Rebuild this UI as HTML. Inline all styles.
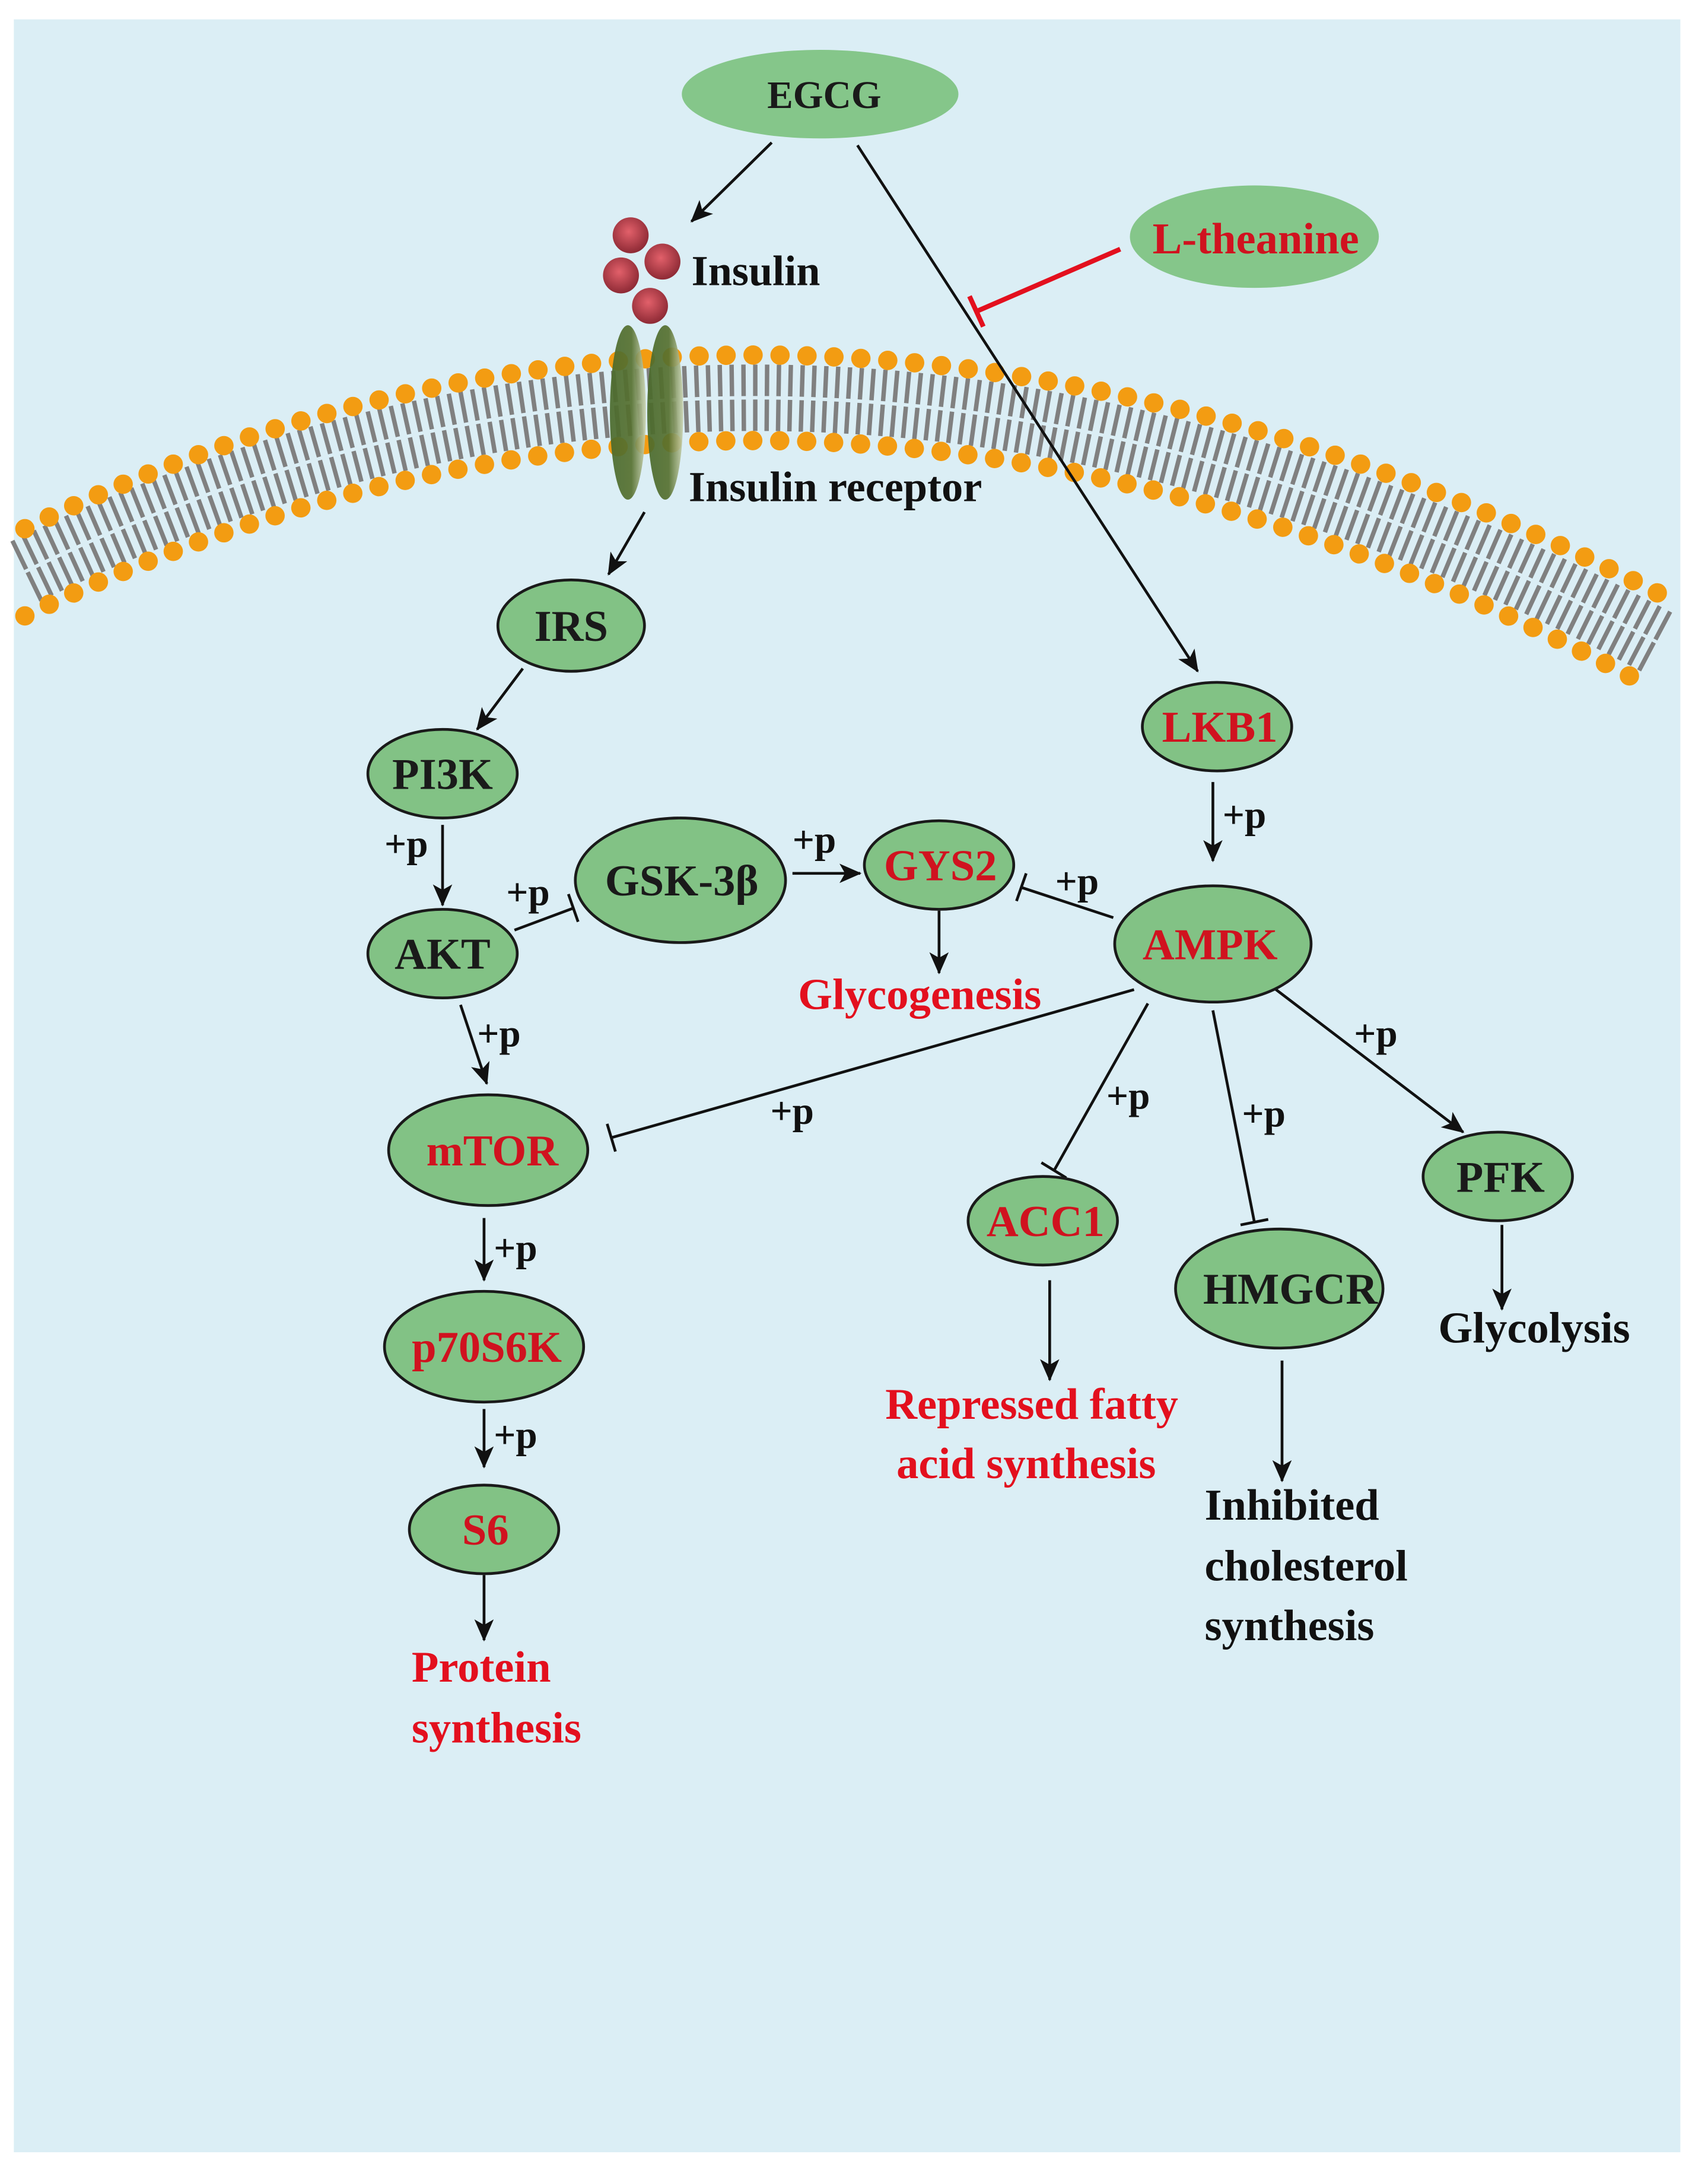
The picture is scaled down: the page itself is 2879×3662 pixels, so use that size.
<!DOCTYPE html>
<html><head><meta charset="utf-8"><style>
html,body{margin:0;padding:0;background:#fff;}
svg{display:block;}
text{font-family:"Liberation Serif",serif;font-weight:bold;}
</style></head><body>
<svg width="2879" height="3662" viewBox="0 0 1235 1570" preserveAspectRatio="none" xmlns="http://www.w3.org/2000/svg">
<defs>
<marker id="a" markerWidth="16" markerHeight="14" refX="15" refY="7" orient="auto" markerUnits="userSpaceOnUse"><path d="M0,0 L16,7 L0,14 L4,7 z" fill="#111"/></marker>
<radialGradient id="ball" cx="0.45" cy="0.4" r="0.6"><stop offset="0" stop-color="#e2606a"/><stop offset="1" stop-color="#8e2a35"/></radialGradient>
<linearGradient id="rec" x1="0" x2="1"><stop offset="0" stop-color="#4a6a2c"/><stop offset="0.6" stop-color="#56702f"/><stop offset="1" stop-color="#c9d2b0"/></linearGradient>
</defs>
<rect x="0" y="0" width="1235" height="1570" fill="#fff"/>
<rect x="10" y="14" width="1205" height="1541" fill="#dbeef5"/>
<path d="M18,413 Q584,138 1200,465" fill="none" stroke="#808080" stroke-width="48" stroke-dasharray="3.2 5.2"/>
<path d="M18,413 Q584,138 1200,465" fill="none" stroke="#dbeef5" stroke-width="2.5"/>
<path d="M18,382 Q584,106 1215,437" fill="none" stroke="#f39c12" stroke-width="14" stroke-linecap="round" stroke-dasharray="0 19.5"/>
<path d="M18,445 Q584,170 1185,492" fill="none" stroke="#f39c12" stroke-width="14" stroke-linecap="round" stroke-dasharray="0 19.5"/>
<ellipse cx="454" cy="298" rx="13" ry="63" fill="url(#rec)" opacity="0.92"/>
<ellipse cx="481" cy="298" rx="13" ry="63" fill="url(#rec)" opacity="0.92"/>
<circle cx="456" cy="170" r="13" fill="url(#ball)"/>
<circle cx="479" cy="189" r="13" fill="url(#ball)"/>
<circle cx="449" cy="199" r="13" fill="url(#ball)"/>
<circle cx="470" cy="221" r="13" fill="url(#ball)"/>
<text x="500" y="206" font-size="31" fill="#111">Insulin</text>
<text x="498" y="362" font-size="31" fill="#111">Insulin receptor</text>
<g stroke="#111" stroke-width="2" fill="none">
<line x1="558" y1="103" x2="500" y2="160" marker-end="url(#a)"/>
<line x1="620" y1="105" x2="866" y2="485" marker-end="url(#a)"/>
<line x1="466" y1="370" x2="440" y2="415" marker-end="url(#a)"/>
<line x1="378" y1="483" x2="345" y2="527" marker-end="url(#a)"/>
<line x1="320" y1="596" x2="320" y2="654" marker-end="url(#a)"/>
<line x1="372" y1="672" x2="415" y2="656"/><line x1="411" y1="646" x2="418" y2="666"/>
<line x1="573" y1="631" x2="622" y2="631" marker-end="url(#a)"/>
<line x1="805" y1="663" x2="738" y2="641"/><line x1="742" y1="631" x2="735" y2="651"/>
<line x1="679" y1="658" x2="679" y2="703" marker-end="url(#a)"/>
<line x1="877" y1="565" x2="877" y2="622" marker-end="url(#a)"/>
<line x1="333" y1="726" x2="352" y2="783" marker-end="url(#a)"/>
<line x1="820" y1="715" x2="442" y2="822"/><line x1="439" y1="812" x2="445" y2="832"/>
<line x1="830" y1="725" x2="762" y2="846"/><line x1="753" y1="840" x2="771" y2="851"/>
<line x1="877" y1="730" x2="907" y2="883"/><line x1="897" y1="885" x2="917" y2="881"/>
<line x1="920" y1="713" x2="1058" y2="818" marker-end="url(#a)"/>
<line x1="350" y1="880" x2="350" y2="925" marker-end="url(#a)"/>
<line x1="350" y1="1018" x2="350" y2="1060" marker-end="url(#a)"/>
<line x1="350" y1="1138" x2="350" y2="1185" marker-end="url(#a)"/>
<line x1="759" y1="925" x2="759" y2="997" marker-end="url(#a)"/>
<line x1="927" y1="983" x2="927" y2="1070" marker-end="url(#a)"/>
<line x1="1086" y1="885" x2="1086" y2="946" marker-end="url(#a)"/>
</g>
<line x1="810" y1="180" x2="706" y2="225" stroke="#e3101e" stroke-width="3.5"/>
<line x1="701" y1="214" x2="711" y2="236" stroke="#e3101e" stroke-width="3.5"/>
<g font-size="28" fill="#111">
<text x="278" y="619">+p</text>
<text x="366" y="654">+p</text>
<text x="573" y="616">+p</text>
<text x="763" y="646">+p</text>
<text x="884" y="598">+p</text>
<text x="345" y="756">+p</text>
<text x="557" y="812">+p</text>
<text x="800" y="801">+p</text>
<text x="898" y="814">+p</text>
<text x="979" y="756">+p</text>
<text x="357" y="911">+p</text>
<text x="357" y="1046">+p</text>
</g>
<ellipse cx="593" cy="68" rx="100" ry="32" fill="#85c68a"/>
<ellipse cx="907" cy="171" rx="90" ry="37" fill="#85c68a"/>
<g fill="#82c285" stroke="#1a1a1a" stroke-width="2">
<ellipse cx="413" cy="452" rx="53" ry="33"/>
<ellipse cx="320" cy="559" rx="54" ry="32"/>
<ellipse cx="320" cy="689" rx="54" ry="32"/>
<ellipse cx="492" cy="636" rx="76" ry="45"/>
<ellipse cx="679" cy="625" rx="54" ry="32"/>
<ellipse cx="877" cy="682" rx="71" ry="42"/>
<ellipse cx="880" cy="525" rx="54" ry="32"/>
<ellipse cx="353" cy="831" rx="72" ry="40"/>
<ellipse cx="350" cy="973" rx="72" ry="40"/>
<ellipse cx="350" cy="1105" rx="54" ry="32"/>
<ellipse cx="754" cy="882" rx="54" ry="32"/>
<ellipse cx="925" cy="931" rx="75" ry="43"/>
<ellipse cx="1083" cy="850" rx="54" ry="32"/>
</g>
<g font-size="32" text-anchor="middle">
<text x="596" y="78" fill="#1a1a1a" font-size="28">EGCG</text>
<text x="908" y="183" fill="#d0121f">L-theanine</text>
<text x="413" y="463" fill="#1a1a1a">IRS</text>
<text x="320" y="570" fill="#1a1a1a">PI3K</text>
<text x="320" y="700" fill="#1a1a1a">AKT</text>
<text x="493" y="647" fill="#1a1a1a">GSK-3β</text>
<text x="680" y="636" fill="#d0121f">GYS2</text>
<text x="875" y="693" fill="#d0121f">AMPK</text>
<text x="882" y="536" fill="#d0121f">LKB1</text>
<text x="356" y="842" fill="#d0121f">mTOR</text>
<text x="352" y="984" fill="#d0121f">p70S6K</text>
<text x="351" y="1116" fill="#d0121f">S6</text>
<text x="756" y="893" fill="#d0121f">ACC1</text>
<text x="933" y="942" fill="#1a1a1a">HMGCR</text>
<text x="1085" y="861" fill="#1a1a1a">PFK</text>
</g>
<g font-size="32">
<text x="665" y="729" text-anchor="middle" fill="#e3101e">Glycogenesis</text>
<text x="348" y="1215" text-anchor="middle" fill="#e3101e">Protein</text>
<text x="359" y="1259" text-anchor="middle" fill="#e3101e">synthesis</text>
<text x="746" y="1025" text-anchor="middle" fill="#e3101e">Repressed fatty</text>
<text x="742" y="1068" text-anchor="middle" fill="#e3101e">acid synthesis</text>
<text x="871" y="1098" fill="#111">Inhibited</text>
<text x="871" y="1142" fill="#111">cholesterol</text>
<text x="871" y="1185" fill="#111">synthesis</text>
<text x="1040" y="970" fill="#111">Glycolysis</text>
</g>
</svg>
</body></html>
